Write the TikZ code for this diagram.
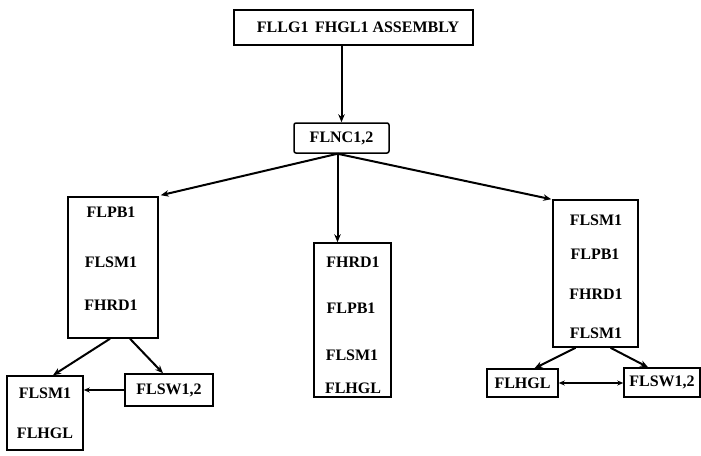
\documentclass[tikz,border=0pt]{standalone}
\usepackage{fontspec}
\setmainfont{Liberation Serif}
\usetikzlibrary{arrows.meta}
\begin{document}
\begin{tikzpicture}[x=1pt,y=-1pt,
  box/.style={draw,line width=1.5pt,inner sep=0pt,minimum width=#1},
  lbl/.style={inner sep=0pt,font=\fontsize{16}{18}\selectfont\bfseries},
  conn/.style={line width=2pt,-{Stealth[length=8pt,width=6.5pt]}},
  thin/.style={line width=1.2pt}]
\useasboundingbox (0,0) rectangle (701,455);
\fill[white] (0,0) rectangle (701,455);
% boxes
\node[box=239pt,minimum height=35pt] (top) at (353.5,27.5) {};
\node[lbl,font=\fontsize{16}{18}\selectfont\bfseries] (toplbl) at (358,27.5) {FLLG1 \,FHGL1 ASSEMBLY};
\node[box=95pt,minimum height=30pt,rounded corners=2pt,lbl] (flnc) at (341.5,138) {FLNC1,2};
\node[box=90pt,minimum height=141pt] (L) at (113,267.5) {};
\node[lbl] (L1) at (111,212) {FLPB1};
\node[lbl] (L2) at (111,262) {FLSM1};
\node[lbl] (L3) at (111,305) {FHRD1};
\node[box=77pt,minimum height=154pt] (M) at (352.5,320) {};
\node[lbl] (M1) at (353,262) {FHRD1};
\node[lbl] (M2) at (351,308) {FLPB1};
\node[lbl] (M3) at (352,355) {FLSM1};
\node[lbl] (M4) at (353,388) {FLHGL};
\node[box=85pt,minimum height=147pt] (R) at (595.5,273.5) {};
\node[lbl] (R1) at (596,220) {FLSM1};
\node[lbl] (R2) at (595,254) {FLPB1};
\node[lbl] (R3) at (596,294) {FHRD1};
\node[lbl] (R4) at (596,333) {FLSM1};
\node[box=76pt,minimum height=74pt] (BL) at (45,413) {};
\node[lbl] (BL1) at (45,393) {FLSM1};
\node[lbl] (BL2) at (45,433) {FLHGL};
\node[box=88pt,minimum height=32pt,lbl] (swL) at (169,390) {FLSW1,2};
\node[box=71pt,minimum height=28pt,lbl] (hglR) at (522.5,383) {FLHGL};
\node[box=76pt,minimum height=29pt,lbl] (swR) at (662,382.5) {FLSW1,2};
% connectors
\draw[conn] (top.south -| flnc) -- (flnc.north);
\draw[conn] ([xshift=-4pt]flnc.south) -- ([xshift=2pt,yshift=1pt]L.north east);
\draw[conn] ([xshift=-4pt]flnc.south) -- ([xshift=-4pt]flnc.south |- M.north);
\draw[conn] ([xshift=-4pt]flnc.south) -- ([xshift=-1pt]R.north west);
\draw[conn] ([xshift=-3pt]L.south) -- ([xshift=8pt]BL.north);
\draw[conn] ([xshift=17pt]L.south) -- ([xshift=-6pt]swL.north);
\draw[thin,-{Stealth[length=6pt,width=5pt]}] (swL.west) -- (swL.west -| BL.east);
\draw[conn] ([xshift=-20pt]R.south) -- ([xshift=12pt]hglR.north);
\draw[conn] ([xshift=15pt]R.south) -- ([xshift=-14pt]swR.north);
\draw[thin,{Stealth[length=6pt,width=5pt]}-{Stealth[length=6pt,width=5pt]}] (hglR.east) -- (hglR.east -| swR.west);
\end{tikzpicture}
\end{document}
